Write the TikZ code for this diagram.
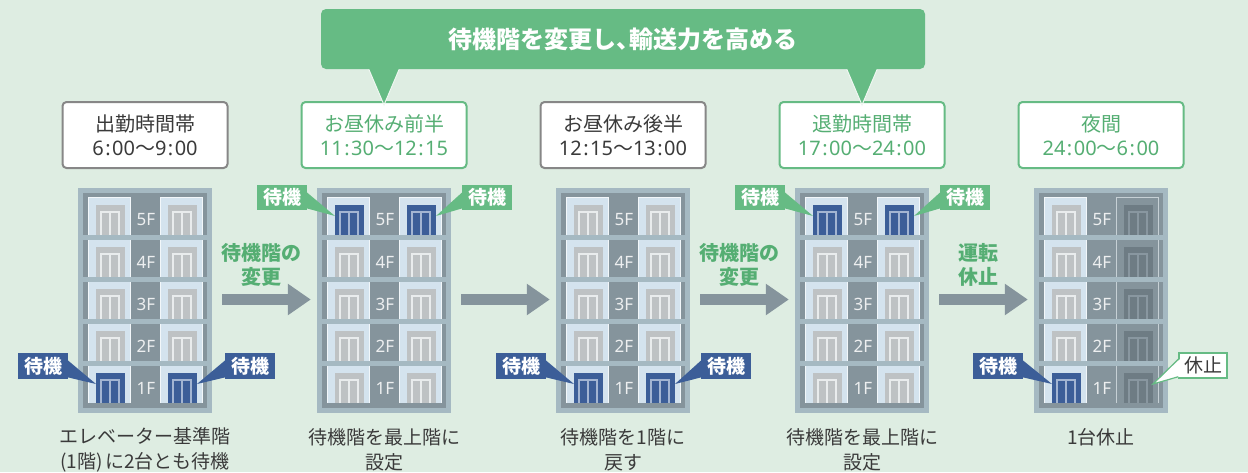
\documentclass[tikz,border=0pt]{standalone}
\usepackage{fontspec}
\setmainfont{Noto Sans CJK JP}
\newfontfamily\numfont{Noto Sans}
\usetikzlibrary{arrows.meta,calc}

\definecolor{bgmint}{HTML}{DEEDE2}
\definecolor{framelt}{HTML}{A5B9C2}
\definecolor{shaftdk}{HTML}{85949C}
\definecolor{cellblue}{HTML}{D4E3EE}
\definecolor{doorgray}{HTML}{BEC2C4}
\definecolor{doorline}{HTML}{E9ECED}
\definecolor{waitblue}{HTML}{3C5E98}
\definecolor{waitline}{HTML}{A3B5D2}
\definecolor{offdoor}{HTML}{6E7C84}
\definecolor{offline}{HTML}{8997A0}
\definecolor{offedge}{HTML}{C6D0D5}
\definecolor{mintgreen}{HTML}{66BB84}
\definecolor{textgreen}{HTML}{55AE73}
\definecolor{boxgray}{HTML}{878787}
\definecolor{textdk}{HTML}{3A3A3A}

% clock time with a little air round the colon
\newcommand{\clk}[2]{{\numfont #1\kern1.5pt:\kern1.5pt#2}}

\tikzset{
  % one car: cell, door and its two panels
  pics/cabin/.style n args={4}{code={
    \fill[#1] (0,0) rectangle (43,38);
    \draw[#2, line width=0.8] (0.4,38) |- (42.6,0.4) -- (42.6,38);
    \fill[#3] (8,8) rectangle (37,38);
    \draw[#4, line width=1.3] (13,38) |- (31,15) -- (31,38) (22,15) -- (22,38);
    \coordinate (-w) at (8,19);
    \coordinate (-e) at (37,19);
  }},
  bldg/.style={minimum width=134pt, minimum height=225pt, inner sep=0pt},
  floorlbl/.style={text=white!85!shaftdk, font=\numfont\fontsize{17}{17}\selectfont},
  timebox/.style={draw=boxgray, line width=2pt, fill=white, rounded corners=4pt,
    minimum width=165pt, minimum height=66pt, align=center, text=textdk,
    font=\fontsize{20}{24}\selectfont},
  greenbox/.style={timebox, draw=mintgreen, text=textgreen},
  waittag/.style={fill=waitblue, text=white, minimum width=50pt, minimum height=26pt,
    inner sep=0pt, font=\bfseries\fontsize{19}{19}\selectfont},
  upptag/.style={waittag, fill=mintgreen, minimum height=25pt},
  steplbl/.style={text=textgreen, align=center, font=\bfseries\fontsize{20}{24}\selectfont},
  bigarrow/.style={shaftdk, line width=11pt, -{Triangle[length=23pt,width=30pt]}},
  caption/.style={align=center, text=textdk, font=\fontsize{19}{25}\selectfont},
}

\begin{document}
\begin{tikzpicture}[x=1pt, y=-1pt]
\fill[bgmint] (0,0) rectangle (1248,472);
\useasboundingbox (0,0) rectangle (1248,472);

% five buildings, two cars each
\foreach \b/\wait in {1/4,2/0,3/4,4/0,5/4}{
  \pgfmathsetmacro\bx{78+(\b-1)*239}
  \node[bldg, fill=framelt] (b\b) at (\bx+67,300.5) {};
  \fill[shaftdk] ($(b\b.north west)+(5,5)$) rectangle ($(b\b.south east)+(-5,-5)$);
  \foreach \k in {0,...,4}{
    \pgfmathsetmacro\fy{197+42*\k}
    \pgfmathtruncatemacro\fl{5-\k}
    \ifnum\k=\wait \def\dfill{waitblue}\def\dline{waitline}\else\def\dfill{doorgray}\def\dline{doorline}\fi
    \pic (c\b\fl L) at (\bx+10,\fy) {cabin={cellblue}{white!70!cellblue}{\dfill}{\dline}};
    \ifnum\b=5
      \pic (c\b\fl R) at (\bx+82,\fy) {cabin={shaftdk}{offedge}{offdoor}{offline}};
    \else
      \pic (c\b\fl R) at (\bx+82,\fy) {cabin={cellblue}{white!70!cellblue}{\dfill}{\dline}};
    \fi
    \node[floorlbl] at (\bx+68,\fy+23) {\fl F};
  }
  \foreach \k in {0,...,3}
    \fill[framelt] (\bx+5,235+42*\k) rectangle (\bx+129,240+42*\k);
}

% time slots
\node[timebox]  (tm1) at (145,135)  {出勤時間帯\\\clk{6}{00}〜\clk{9}{00}};
\node[greenbox] (tm2) at (384,135)  {お昼休み前半\\\clk{11}{30}〜\clk{12}{15}};
\node[timebox]  (tm3) at (623,135)  {お昼休み後半\\\clk{12}{15}〜\clk{13}{00}};
\node[greenbox] (tm4) at (862,135)  {退勤時間帯\\\clk{17}{00}〜\clk{24}{00}};
\node[greenbox] (tm5) at (1101,135) {夜間\\\clk{24}{00}〜\clk{6}{00}};

% banner over the two changed slots
\foreach \t in {tm2,tm4}
  \filldraw[fill=mintgreen, draw=white!55!bgmint, line width=1pt]
    ($(\t.north)+(-17,-36)$) -- ($(\t.north)+(0,4)$) -- ($(\t.north)+(17,-36)$);
\node[fill=mintgreen, rounded corners=5pt, minimum width=604pt, minimum height=60pt,
  text=white, font=\bfseries\fontsize{24}{24}\selectfont] (band) at (623,39)
  {待機階を変更し、\hspace{-0.45em}輸送力を高める};

% waiting tags
\foreach \b/\fl/\xl/\xr/\ty/\st/\col in {1/1/43/250/366/waittag/waitblue,
    2/5/282/487/197.5/upptag/mintgreen, 3/1/521/726/366/waittag/waitblue,
    4/5/760/965/197.5/upptag/mintgreen}{
  \node[\st] (w\b L) at (\xl,\ty) {待機};
  \node[\st] (w\b R) at (\xr,\ty) {待機};
  \fill[\col] ($(w\b L.north east)+(-1,7)$) -- (c\b\fl L-w) -- ($(w\b L.south east)+(-1,-2)$) -- cycle;
  \fill[\col] ($(w\b R.north west)+(1,7)$) -- (c\b\fl R-e) -- ($(w\b R.south west)+(1,-2)$) -- cycle;
}
\node[waittag] (w5L) at (998,366) {待機};
\fill[waitblue] ($(w5L.north east)+(-1,7)$) -- (c51L-w) -- ($(w5L.south east)+(-1,-2)$) -- cycle;
\node[waittag, fill=white, draw=mintgreen, line width=1.5pt, text=textdk,
  minimum width=48pt, minimum height=25pt, font=\fontsize{19}{19}\selectfont] (w5R) at (1203,365.5) {休止};
\fill[white] ($(w5R.north west)+(1.5,7)$) -- (c51R-e) -- ($(w5R.south west)+(1.5,-2)$) -- cycle;
\draw[mintgreen, line width=1.2pt] ($(w5R.north west)+(0,7)$) -- (c51R-e) -- ($(w5R.south west)+(0,-2)$);

% steps between slots
\foreach \a/\c in {1/2,2/3,3/4,4/5}
  \draw[bigarrow] ($(b\a.east)+(10,-1)$) -- ($(b\c.west)+(-6,-1)$);
\node[steplbl] at ($(b1.east)!0.5!(b2.west)+(-3,-36)$) {待機階の\\変更};
\node[steplbl] at ($(b3.east)!0.5!(b4.west)+(-3,-36)$) {待機階の\\変更};
\node[steplbl] at ($(b4.east)!0.5!(b5.west)+(-3,-36)$) {運転\\休止};

% what happens in each slot
\node[caption] at ($(b1.south)+(0,36.5)$) {エレベーター基準階\\(1階)\hspace{3pt}に2台とも待機};
\node[caption] at ($(b2.south)+(0,36.5)$) {待機階を最上階に\\設定};
\node[caption] at ($(b3.south)+(0,36.5)$) {待機階を1階に\\戻す};
\node[caption] at ($(b4.south)+(0,36.5)$) {待機階を最上階に\\設定};
\node[caption] at ($(b5.south)+(0,24)$) {1台休止};
\end{tikzpicture}
\end{document}
